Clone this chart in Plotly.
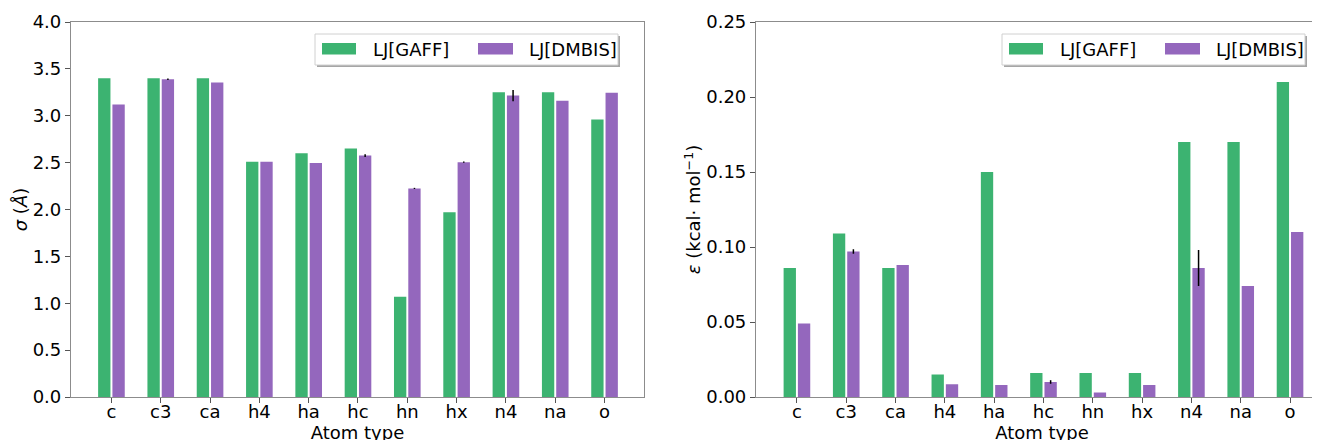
import plotly.graph_objects as go

# ---------------- data ----------------
atom_types = ["c", "c3", "ca", "h4", "ha", "hc", "hn", "hx", "n4", "na", "o"]
series_names = ["LJ[GAFF]", "LJ[DMBIS]"]

sigma_gaff = [3.40, 3.40, 3.40, 2.51, 2.60, 2.65, 1.07, 1.97, 3.25, 3.25, 2.96]
sigma_dmbis = [3.12, 3.39, 3.355, 2.51, 2.495, 2.575, 2.225, 2.505, 3.215, 3.16, 3.245]
sigma_dmbis_err = [0, 0.008, 0, 0, 0, 0.015, 0.006, 0.006, 0.06, 0, 0]

eps_gaff = [0.086, 0.109, 0.086, 0.015, 0.150, 0.016, 0.016, 0.016, 0.170, 0.170, 0.210]
eps_dmbis = [0.049, 0.097, 0.088, 0.0085, 0.008, 0.010, 0.003, 0.008, 0.086, 0.074, 0.110]
eps_dmbis_err = [0, 0.0015, 0, 0, 0, 0.0012, 0, 0, 0.012, 0, 0]

sigma_ticks = [0.0, 0.5, 1.0, 1.5, 2.0, 2.5, 3.0, 3.5, 4.0]
eps_ticks = [0.00, 0.05, 0.10, 0.15, 0.20, 0.25]

GREEN = "#3CB371"
PURPLE = "#9467BD"
W, H = 1320, 440
OFF = 8  # page body margin offset
FONT = "DejaVu Sans"

fig = go.Figure()


def add_pair(gaff, dmbis, err, xa, ya):
    fig.add_trace(go.Bar(x=atom_types, y=gaff, name=series_names[0], marker_color=GREEN,
                         marker_line_width=0, width=0.25, offset=-0.27,
                         xaxis=xa, yaxis=ya, showlegend=False))
    fig.add_trace(go.Bar(x=atom_types, y=dmbis, name=series_names[1], marker_color=PURPLE,
                         marker_line_width=0, width=0.25, offset=0.02,
                         error_y=dict(type="data", array=err, visible=True, color="black",
                                      thickness=1.5, width=0),
                         xaxis=xa, yaxis=ya, showlegend=False))


add_pair(sigma_gaff, sigma_dmbis, sigma_dmbis_err, "x", "y")
add_pair(eps_gaff, eps_dmbis, eps_dmbis_err, "x2", "y2")


def px(x):
    return (x - OFF) / W


def py(y):
    return 1 - (y - OFF) / H


ydom = [py(397), py(22)]
axis_common = dict(showline=True, linecolor="#8c8c8c", linewidth=1.2, ticks="outside",
                   ticklen=5, tickwidth=1.2, tickcolor="#555555", showgrid=False,
                   zeroline=False, automargin=False,
                   tickfont=dict(family=FONT, size=18, color="black"))
xtick_extra = dict(ticklabelstandoff=-7)

fig.update_layout(
    width=W, height=H,
    margin=dict(l=0, r=0, t=0, b=0),
    plot_bgcolor="white", paper_bgcolor="white",
    barmode="overlay",
    font=dict(family=FONT, size=18, color="black"),
    xaxis=dict(domain=[px(71), px(644)], range=[-0.82, 10.8], anchor="y", mirror=True,
               title=dict(text="Atom type", standoff=0, font=dict(family=FONT, size=18)),
               **xtick_extra, **axis_common),
    yaxis=dict(domain=ydom, range=[0, 4.0], anchor="x", mirror=True,
               tickvals=sigma_ticks, ticktext=[f"{v:.1f}" for v in sigma_ticks],
               title=dict(text="<i>σ</i> (<i>Å</i>)", standoff=0, font=dict(family=FONT, size=18)),
               **axis_common),
    xaxis2=dict(domain=[px(756), 1.0], range=[-0.83, 10.77], anchor="y2", mirror=True,
                title=dict(text="Atom type", standoff=0, font=dict(family=FONT, size=18)),
                **xtick_extra, **axis_common),
    yaxis2=dict(domain=ydom, range=[0, 0.25], anchor="x2", mirror=False,
                tickvals=eps_ticks, ticktext=[f"{v:.2f}" for v in eps_ticks],
                title=dict(text="<i>ε</i> (kcal· mol<sup>−1</sup>)", standoff=0,
                           font=dict(family=FONT, size=18)),
                **axis_common),
)

# ---------------- manual legends ----------------
shapes = []
annotations = []


def add_legend(dx):
    x0, x1, y0, y1 = 315 + dx, 618 + dx, 34, 65
    shapes.append(dict(type="rect", xref="paper", yref="paper", layer="above",
                       x0=px(x0 + 2), x1=px(x1 + 2), y0=py(y0 + 2), y1=py(y1 + 2),
                       fillcolor="rgba(0,0,0,0.35)", line=dict(width=0)))
    shapes.append(dict(type="rect", xref="paper", yref="paper", layer="above",
                       x0=px(x0), x1=px(x1), y0=py(y0), y1=py(y1),
                       fillcolor="white", line=dict(color="#d0d0d0", width=1)))
    for sx0, sx1, col, tx, name in [(322, 356, GREEN, 371, series_names[0]),
                                   (478, 513, PURPLE, 527, series_names[1])]:
        shapes.append(dict(type="rect", xref="paper", yref="paper", layer="above",
                           x0=px(sx0 + dx), x1=px(sx1 + dx), y0=py(43), y1=py(54.5),
                           fillcolor=col, line=dict(width=0)))
        annotations.append(dict(text=name, xref="paper", yref="paper", x=px(tx + dx),
                                y=py(49.5), xanchor="left", yanchor="middle", showarrow=False,
                                font=dict(family=FONT, size=18, color="black")))


add_legend(0)
add_legend(687)
fig.update_layout(shapes=shapes, annotations=annotations)

fig.write_html("out.html")
